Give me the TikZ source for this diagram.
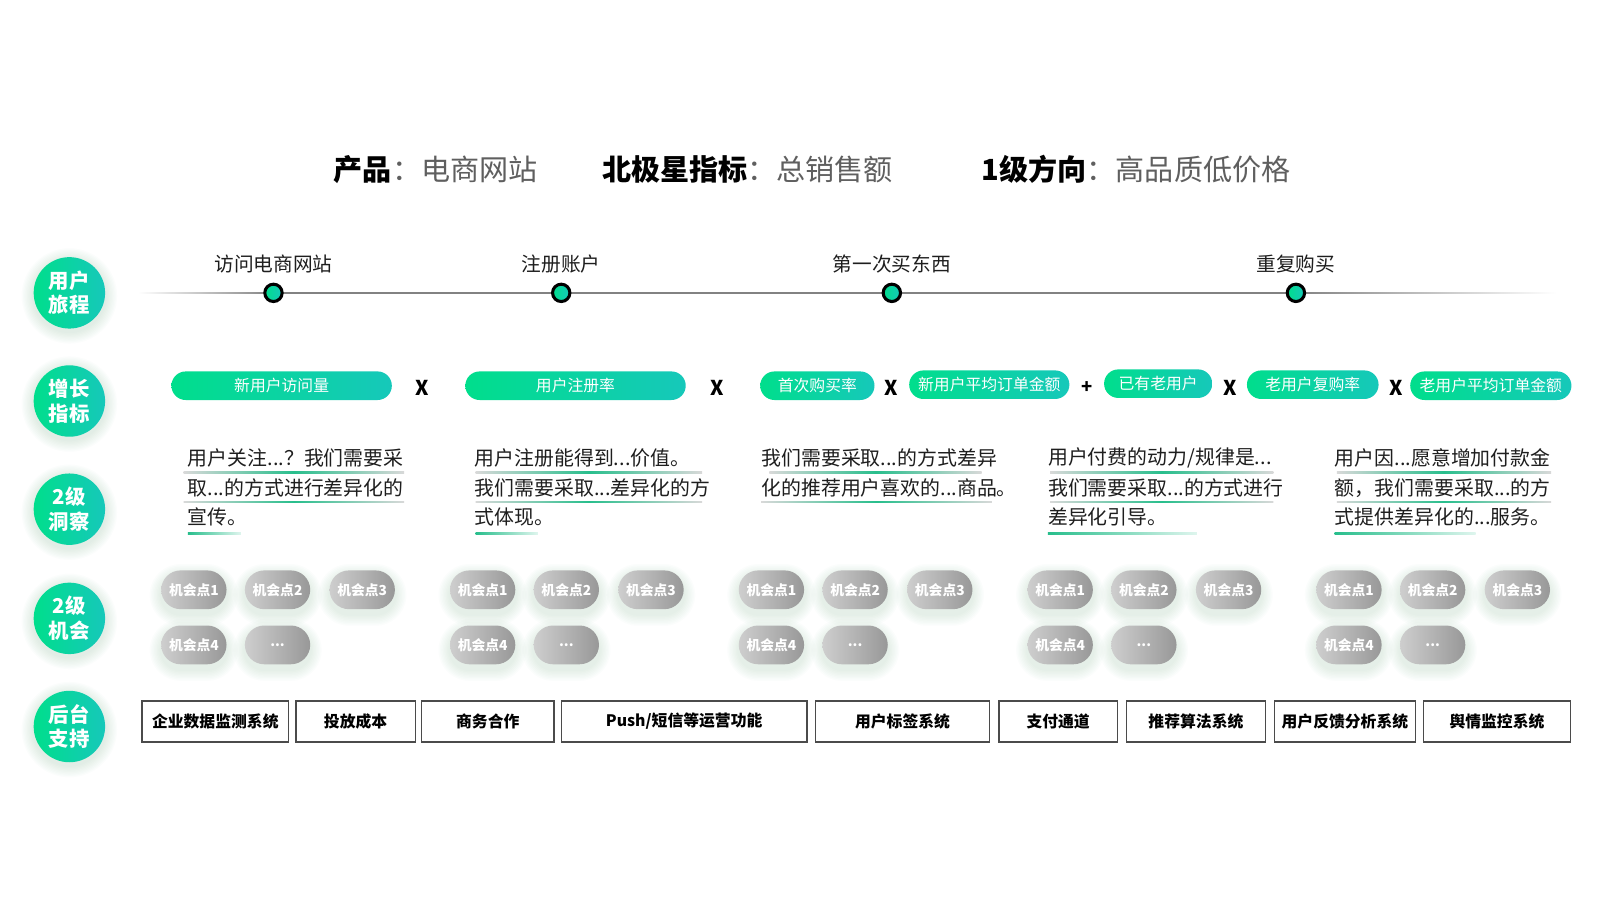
\documentclass[tikz,border=0pt]{standalone}
\usepackage{fontspec}
\setmainfont{Noto Sans CJK SC}
\definecolor{gA}{RGB}{0,222,140}
\definecolor{gB}{RGB}{22,200,186}
\definecolor{oA}{RGB}{206,206,206}
\definecolor{oB}{RGB}{152,152,152}
\definecolor{txt}{RGB}{30,30,30}
\definecolor{hd}{RGB}{95,95,95}
\definecolor{ln}{RGB}{130,130,130}
\definecolor{ul}{RGB}{40,190,140}
\definecolor{glw}{RGB}{120,170,150}
\newcommand\fs[2]{\fontsize{#1}{#2}\selectfont}
\newcommand\uline[3]{\shade[left color=gray!30,right color=gray!30,middle color=ul] (#1,#3-0.7) rectangle (#2,#3+0.7);}
\newcommand\sline[3]{\shade[left color=ul,right color=ul!15] (#1,#3-0.8) rectangle (#2,#3+0.8);}
\newcommand\glowcirc[2]{\foreach \k in {1,...,9}{\fill[glw,opacity=0.022] (#1,#2+3) circle ({35+\k*1.3});}}
\newcommand\glowpill[2]{\foreach \k in {1,...,8}{%
  \pgfmathsetmacro\gr{19+\k*1.4}%
  \fill[glw,opacity=0.024,rounded corners=\gr pt] ({#1-32-\k*1.4},{#2-19-\k*1.4+5}) rectangle ({#1+32+\k*1.4},{#2+19+\k*1.4+5});}}
\begin{document}
\begin{tikzpicture}[x=1pt,y=-1pt,
  badge/.style={circle,minimum size=70pt,inner sep=0pt,left color=gA,right color=gB,text=white,
    font=\fs{20}{24}\bfseries,align=center},
  metric/.style={rectangle,rounded corners=14pt,minimum height=28pt,inner sep=0pt,left color=gA,right color=gB,
    text=white,font=\fs{15.5}{18}},
  oper/.style={font=\fs{20}{22}\bfseries,text=black,inner sep=0pt},
  opp/.style={rectangle,rounded corners=19pt,minimum width=64pt,minimum height=38pt,inner sep=0pt,
    left color=oA,right color=oB,text=white,font=\fs{13.5}{15}\bfseries},
  sysbox/.style={draw=txt!80,line width=1.3pt,minimum height=40pt,inner sep=0pt,font=\fs{15.5}{18}\bfseries,text=black},
  jlabel/.style={font=\fs{19.3}{22},text=txt,inner sep=0pt},
  jdot/.style={circle,minimum size=17pt,inner sep=0pt,left color=gA,right color=gB,draw=black,line width=3pt},
  ins/.style={anchor=west,font=\fs{19.5}{22},text=txt,inner sep=0pt},
  hdr/.style={anchor=west,font=\fs{28.5}{32},inner sep=0pt}
]
\useasboundingbox (0,0) rectangle (1568,882);
\fill[white] (0,0) rectangle (1568,882);

% header
\node[hdr] (h1) at (327,166) {\textbf{产品}\textcolor{hd}{：\mdseries 电商网站}};
\node[hdr] (h2) at (590,166) {\textbf{北极星指标}\textcolor{hd}{：\mdseries 总销售额}};
\node[hdr] (h3) at (962,166) {\textbf{1级方向}\textcolor{hd}{：\mdseries 高品质低价格}};

% badges
\glowcirc{68}{287}\glowcirc{68}{393}\glowcirc{68}{499}\glowcirc{68}{606}\glowcirc{68}{712}
\node[badge] (b1) at (68,287) {用户\\旅程};
\node[badge] (b2) at (68,393) {增长\\指标};
\node[badge] (b3) at (68,499) {2级\\洞察};
\node[badge] (b4) at (68,606) {2级\\机会};
\node[badge] (b5) at (68,712) {后台\\支持};

% journey line
\coordinate (ls) at (135,287);
\coordinate (le) at (1525,287);
\coordinate (d1) at (268,287);
\coordinate (d4) at (1270,287);
\shade[left color=white,right color=ln] ([yshift=-0.7pt]ls) rectangle ([yshift=0.7pt]d1);
\fill[ln] ([yshift=-0.7pt]d1) rectangle ([yshift=0.7pt]d4);
\shade[left color=ln,right color=white] ([yshift=-0.7pt]d4) rectangle ([yshift=0.7pt]le);
\node[jdot] (j1) at (d1) {};
\node[jdot] (j2) at (550,287) {};
\node[jdot] (j3) at (874,287) {};
\node[jdot] (j4) at (d4) {};
\node[jlabel] (t1) at (268,259) {访问电商网站};
\node[jlabel] (t2) at (550,259) {注册账户};
\node[jlabel] (t3) at (874,259) {第一次买东西};
\node[jlabel] (t4) at (1270,259) {重复购买};

% growth metrics
\node[metric,minimum width=216pt] (m1) at (276,378) {新用户访问量};
\node[oper] (x1) at (414,380) {X};
\node[metric,minimum width=216pt] (m2) at (564,378) {用户注册率};
\node[oper] (x2) at (703,380) {X};
\node[metric,minimum width=112pt] (m3) at (801,378) {首次购买率};
\node[oper] (x3) at (873,380) {X};
\node[metric,minimum width=157pt] (m4) at (969.5,377) {新用户平均订单金额};
\node[oper,font=\fs{18}{20}\bfseries] (p1) at (1065,380) {+};
\node[metric,minimum width=106pt] (m5) at (1135,376) {已有老用户};
\node[oper] (x4) at (1206,380) {X};
\node[metric,minimum width=129pt] (m6) at (1286.5,377) {老用户复购率};
\node[oper] (x5) at (1368,380) {X};
\node[metric,minimum width=158pt] (m7) at (1461,378) {老用户平均订单金额};

% insights
\node[ins] (i11) at (184,449) {用户关注...？我们需要采};
\node[ins] (i12) at (184,478) {取...的方式进行差异化的};
\node[ins] (i13) at (184,507) {宣传。};
\uline{180}{396}{463}\uline{180}{396}{492}\sline{184}{236}{523}
\node[ins] (i21) at (465,449) {用户注册能得到...价值。};
\node[ins] (i22) at (465,478) {我们需要采取...差异化的方};
\node[ins] (i23) at (465,507) {式体现。};
\uline{466}{688}{463}\uline{466}{688}{492}\sline{466}{527}{523}
\node[ins] (i31) at (746,449) {我们需要采取...的方式差异};
\node[ins] (i32) at (746,478) {化的推荐用户喜欢的...商品。};
\uline{754}{962}{463}\uline{746}{972}{492}
\node[ins] (i41) at (1027,449) {用户付费的动力/规律是...};
\node[ins] (i42) at (1027,478) {我们需要采取...的方式进行};
\node[ins] (i43) at (1027,507) {差异化引导。};
\uline{1029}{1248}{463}\uline{1029}{1248}{492}\sline{1027}{1173}{523}
\node[ins] (i51) at (1308,449) {用户因...愿意增加付款金};
\node[ins] (i52) at (1308,478) {额，我们需要采取...的方};
\node[ins] (i53) at (1308,507) {式提供差异化的...服务。};
\uline{1310}{1520}{463}\uline{1310}{1520}{492}\sline{1308}{1446}{523}

% opportunities
\foreach \c in {190,473,756,1039,1322} {
  \glowpill{\c}{578}\glowpill{\c+82}{578}\glowpill{\c+165}{578}\glowpill{\c}{632}\glowpill{\c+82}{632}
}
\foreach \c [count=\i] in {190,473,756,1039,1322} {
  \node[opp] (o\i-a) at (\c,578) {机会点1};
  \node[opp] (o\i-b) at (\c+82,578) {机会点2};
  \node[opp] (o\i-c) at (\c+165,578) {机会点3};
  \node[opp] (o\i-d) at (\c,632) {机会点4};
  \node[opp] (o\i-e) at (\c+82,632) {...};
}

% backend systems
\node[sysbox,minimum width=144pt] (s1) at (211,707) {企业数据监测系统};
\node[sysbox,minimum width=117pt] (s2) at (348.5,707) {投放成本};
\node[sysbox,minimum width=130pt] (s3) at (478,707) {商务合作};
\node[sysbox,minimum width=241pt] (s4) at (670.5,707) {Push/短信等运营功能};
\node[sysbox,minimum width=171pt] (s5) at (884.5,707) {用户标签系统};
\node[sysbox,minimum width=116pt] (s6) at (1037,707) {支付通道};
\node[sysbox,minimum width=136pt] (s7) at (1172,707) {推荐算法系统};
\node[sysbox,minimum width=138pt] (s8) at (1318,707) {用户反馈分析系统};
\node[sysbox,minimum width=144pt] (s9) at (1467,707) {舆情监控系统};
\end{tikzpicture}
\end{document}
